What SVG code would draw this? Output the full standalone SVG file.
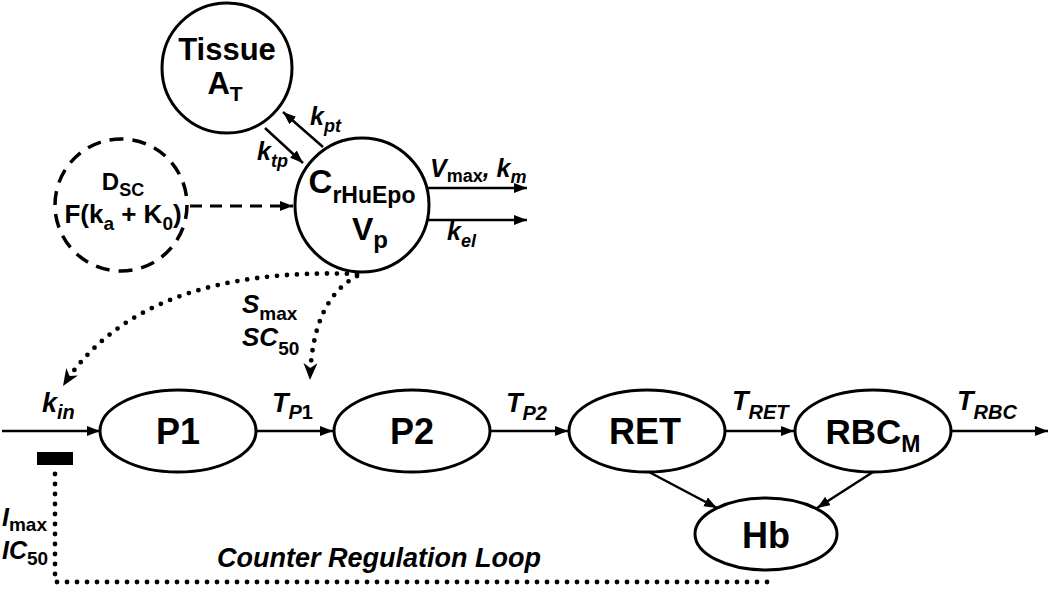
<svg xmlns="http://www.w3.org/2000/svg" width="1050" height="589" viewBox="0 0 1050 589">
<defs>
<style>
.shape{fill:#fff;stroke:#000;stroke-width:3}
.dashc{fill:none;stroke:#000;stroke-width:3.5;stroke-dasharray:14 9}
.t{font-family:"Liberation Sans",Arial,Helvetica,sans-serif;font-weight:bold;fill:#000}
.it{font-style:italic}
.ln{fill:none;stroke:#000;stroke-width:2.5}
.dash{fill:none;stroke:#000;stroke-width:3;stroke-dasharray:12 8}
.dot{fill:none;stroke:#000;stroke-width:4.8;stroke-linecap:round;stroke-dasharray:0 10}
</style>
<marker id="arr" markerUnits="userSpaceOnUse" markerWidth="13" markerHeight="10" refX="13" refY="5" orient="auto"><path d="M0,0 L13,5 L0,10 z" fill="#000"/></marker>
<marker id="dart" markerUnits="userSpaceOnUse" markerWidth="17" markerHeight="14" refX="17" refY="7" orient="auto"><path d="M0,0 L17,7 L0,14 L5,7 z" fill="#000"/></marker>
</defs>
<rect width="1050" height="589" fill="#fff"/>

<g id="connectors">
<line class="ln" x1="323" y1="147" x2="283" y2="112" marker-end="url(#arr)"/>
<line class="ln" x1="265" y1="128" x2="303" y2="163" marker-end="url(#arr)"/>
<line class="dash" x1="190" y1="206" x2="293" y2="206" marker-end="url(#arr)"/>
<line class="ln" x1="427" y1="188" x2="527" y2="188" marker-end="url(#arr)"/>
<line class="ln" x1="427" y1="220" x2="527" y2="220" marker-end="url(#arr)"/>
<path class="dot" d="M357,274 Q140,266 63,386" marker-end="url(#dart)"/>
<path class="dot" d="M357,276 Q312,300 310,380" marker-end="url(#dart)"/>
<line class="ln" x1="2" y1="431" x2="100" y2="431" marker-end="url(#arr)"/>
<line class="ln" x1="257" y1="431" x2="333" y2="431" marker-end="url(#arr)"/>
<line class="ln" x1="490" y1="431" x2="568" y2="431" marker-end="url(#arr)"/>
<line class="ln" x1="725" y1="431" x2="794" y2="431" marker-end="url(#arr)"/>
<line class="ln" x1="951" y1="431" x2="1048" y2="431" marker-end="url(#arr)"/>
<line class="ln" x1="649" y1="472" x2="717" y2="508" marker-end="url(#arr)"/>
<line class="ln" x1="873" y1="472" x2="817" y2="508" marker-end="url(#arr)"/>
<rect x="37" y="452" width="36" height="13" fill="#000"/>
<path class="dot" d="M55,474 L55,582 L767,582 L767,572"/>
</g>

<g id="tissue">
<circle class="shape" cx="227" cy="68" r="65"/>
<text class="t" x="227" y="60" font-size="31" text-anchor="middle">Tissue</text>
<text class="t" x="225" y="94" font-size="31" text-anchor="middle">A<tspan font-size="21" dy="7">T</tspan></text>
</g>

<g id="dose">
<circle class="dashc" cx="121" cy="205" r="66"/>
<text class="t" x="123" y="190" font-size="24" text-anchor="middle">D<tspan font-size="18" dy="6">SC</tspan></text>
<text class="t" x="123" y="223" font-size="26" text-anchor="middle">F(k<tspan font-size="19" dy="7">a</tspan><tspan dy="-7"> + K</tspan><tspan font-size="19" dy="7">0</tspan><tspan dy="-7">)</tspan></text>
</g>

<g id="plasma">
<circle class="shape" cx="362" cy="205" r="67"/>
<text class="t" x="362" y="193" font-size="33" text-anchor="middle">C<tspan font-size="23" dy="10">rHuEpo</tspan></text>
<text class="t" x="370" y="240" font-size="32" text-anchor="middle">V<tspan font-size="24" dy="8">p</tspan></text>
</g>

<g id="labels">
<text class="t it" x="310" y="125" font-size="25">k<tspan font-size="18" dy="7">pt</tspan></text>
<text class="t it" x="257" y="160" font-size="25">k<tspan font-size="18" dy="7">tp</tspan></text>
<text class="t it" x="430" y="177" font-size="25">V<tspan font-size="18" dy="5" font-style="normal">max</tspan><tspan dy="-5">, k</tspan><tspan font-size="18" dy="6">m</tspan></text>
<text class="t it" x="447" y="240" font-size="25">k<tspan font-size="18" dy="7">el</tspan></text>
<text class="t it" x="242" y="313" font-size="26">S<tspan font-size="19" dy="7" font-style="normal">max</tspan></text>
<text class="t it" x="242" y="346" font-size="26">SC<tspan font-size="19" dy="9" font-style="normal">50</tspan></text>
<text class="t it" x="42" y="412" font-size="27">k<tspan font-size="20" dy="7">in</tspan></text>
<text class="t it" x="272" y="412" font-size="27">T<tspan font-size="20" dy="7">P</tspan><tspan font-size="20" font-style="normal">1</tspan></text>
<text class="t it" x="506" y="412" font-size="27">T<tspan font-size="20" dy="8">P2</tspan></text>
<text class="t it" x="732" y="410" font-size="27">T<tspan font-size="20" dy="9">RET</tspan></text>
<text class="t it" x="957" y="410" font-size="27">T<tspan font-size="20" dy="9">RBC</tspan></text>
<text class="t it" x="2" y="526" font-size="25">I<tspan font-size="19" dy="5" font-style="normal">max</tspan></text>
<text class="t it" x="2" y="559" font-size="25">IC<tspan font-size="19" dy="6" font-style="normal">50</tspan></text>
<text class="t it" x="217" y="567" font-size="27">Counter Regulation Loop</text>
</g>

<g id="p1">
<ellipse class="shape" cx="178" cy="431" rx="78" ry="41"/>
<text class="t" x="178" y="444" font-size="36" text-anchor="middle">P1</text>
</g>
<g id="p2">
<ellipse class="shape" cx="412" cy="431" rx="78" ry="41"/>
<text class="t" x="412" y="444" font-size="36" text-anchor="middle">P2</text>
</g>
<g id="ret">
<ellipse class="shape" cx="647" cy="431" rx="78" ry="41"/>
<text class="t" x="645" y="444" font-size="36" text-anchor="middle">RET</text>
</g>
<g id="rbc">
<ellipse class="shape" cx="873" cy="431" rx="78" ry="41"/>
<text class="t" x="873" y="444" font-size="35" text-anchor="middle">RBC<tspan font-size="23" dy="8">M</tspan></text>
</g>
<g id="hb">
<ellipse class="shape" cx="766" cy="534" rx="71" ry="36"/>
<text class="t" x="766" y="548" font-size="36" text-anchor="middle">Hb</text>
</g>
</svg>
